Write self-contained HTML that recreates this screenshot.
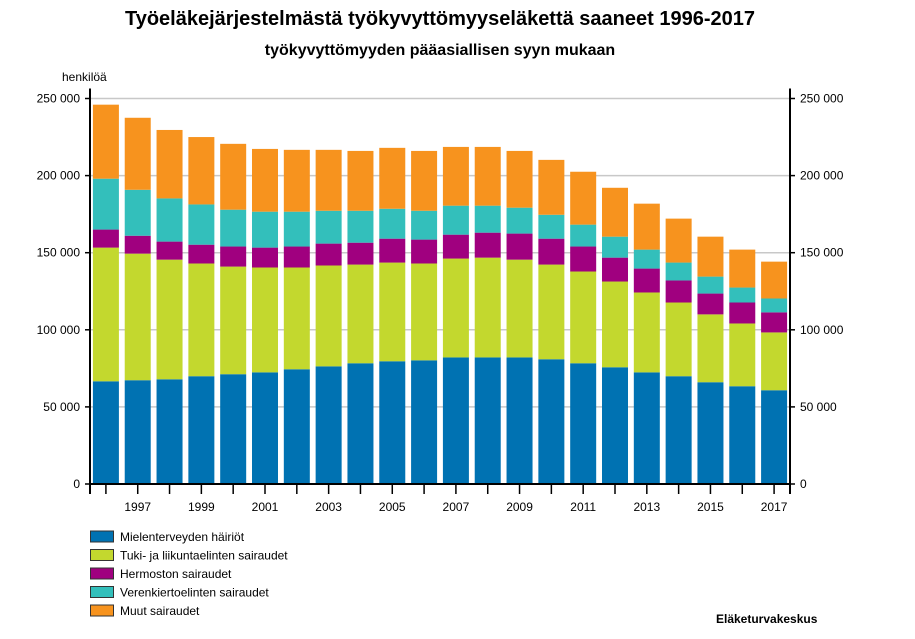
<!DOCTYPE html>
<html><head><meta charset="utf-8"><style>
body{margin:0;background:#fff;font-family:"Liberation Sans",Arial,sans-serif;}
</style></head><body>
<svg id="chart" width="915" height="634" xmlns="http://www.w3.org/2000/svg" font-family="Liberation Sans, Arial, sans-serif">
<text x="440" y="25" text-anchor="middle" font-size="20" font-weight="bold">Työeläkejärjestelmästä työkyvyttömyyseläkettä saaneet 1996-2017</text>
<text x="440" y="55" text-anchor="middle" font-size="16" font-weight="bold">työkyvyttömyyden pääasiallisen syyn mukaan</text>
<text x="62" y="81" font-size="12">henkilöä</text>
<text x="716" y="623" font-size="12" font-weight="bold">Eläketurvakeskus</text>
<g id="grid"></g><g id="bars"></g><g id="axes"></g><g id="legend"></g>
</svg>
<script>
const years=["1996","1997","1998","1999","2000","2001","2002","2003","2004","2005","2006","2007","2008","2009","2010","2011","2012","2013","2014","2015","2016","2017"];
const mental=[66.6,67.3,67.9,69.9,71.2,72.4,74.4,76.3,78.3,79.6,80.2,82.1,82.1,82.1,80.9,78.3,75.7,72.4,69.9,66,63.4,60.8];
const musculo=[86.7,82.1,77.6,73.1,69.8,68,66,65.4,64,64,62.8,64.1,64.7,63.4,61.4,59.5,55.6,51.8,47.8,44,40.7,37.5];
const nervous=[11.7,11.6,11.7,12.2,13,12.9,13.6,14.2,14.2,15.5,15.5,15.5,16.2,16.9,16.8,16.2,15.5,15.5,14.3,13.5,13.6,13];
const circ=[33,29.8,28,26.1,23.9,23.3,22.6,21.3,20.7,19.4,18.7,18.8,17.5,16.8,15.5,14.2,13.6,12.3,11.6,11,9.7,9];
const other=[48,46.7,44.4,43.7,42.7,40.7,40.1,39.5,38.8,39.5,38.8,38.1,38.1,36.8,35.6,34.3,31.7,29.8,28.5,25.9,24.6,23.9];
const seriesNames=["Mielenterveyden häiriöt","Tuki- ja liikuntaelinten sairaudet","Hermoston sairaudet","Verenkiertoelinten sairaudet","Muut sairaudet"];
const yTicks=[0,50,100,150,200,250];
const yTickLabels=["0","50 000","100 000","150 000","200 000","250 000"];
const series=[mental,musculo,nervous,circ,other];
const colors=["#0072b2","#c3d82e","#a0007f","#33bfbb","#f7931e"];
const slugs=["mental","musculoskeletal","nervous","circulatory","other"];
const NS="http://www.w3.org/2000/svg";
const X0=90,X1=790,Y0=484,Ytop=98.5;
const band=(X1-X0)/years.length;
function y(v){return Y0-(v/250)*(Y0-Ytop);}
function xc(i){return X0+band*(i+0.5);}
function mk(tag,attrs,parent){const e=document.createElementNS(NS,tag);for(const k in attrs)e.setAttribute(k,attrs[k]);parent.appendChild(e);return e;}
const grid=document.getElementById('grid'),bars=document.getElementById('bars'),axes=document.getElementById('axes'),legend=document.getElementById('legend');
yTicks.forEach((t,i)=>{
 if(t>0){const l=mk('line',{x1:X0,x2:X1,y1:y(t),y2:y(t),stroke:'#c8c8c8','stroke-width':1.5},grid);
 
 }
 const a=mk('line',{x1:X0-5,x2:X0,y1:y(t),y2:y(t),stroke:'#000','stroke-width':1.5},axes);
 
 
 const b=mk('line',{x1:X1,x2:X1+5,y1:y(t),y2:y(t),stroke:'#000','stroke-width':1.5},axes);
 
 
 const tl=mk('text',{x:X0-10,y:y(t)+4,'text-anchor':'end','font-size':12},axes);tl.textContent=yTickLabels[i];
 
 
 const tr=mk('text',{x:X1+10,y:y(t)+4,'font-size':12},axes);tr.textContent=yTickLabels[i];
 
 
});
years.forEach((yr,i)=>{
 let acc=0;
 series.forEach((s,k)=>{
  const top=acc+s[i];
  const r=mk('rect',{x:xc(i)-13,width:26,y:y(top),height:y(acc)-y(top),fill:colors[k]},bars);
  
  
  acc=top;
 });
 const tk=mk('line',{x1:xc(i),x2:xc(i),y1:Y0,y2:Y0+10,stroke:'#000','stroke-width':1.5},axes);
 
 
 if(i%2===1){const t=mk('text',{x:xc(i),y:511,'text-anchor':'middle','font-size':12},axes);t.textContent=yr;
 
 }
});
const ax=mk('line',{x1:X0-1,x2:X1+1,y1:Y0,y2:Y0,stroke:'#000','stroke-width':2},axes);


const la=mk('line',{x1:X0,x2:X0,y1:Ytop-10,y2:Y0+10,stroke:'#000','stroke-width':2},axes);


const ra=mk('line',{x1:X1,x2:X1,y1:Ytop-10,y2:Y0+10,stroke:'#000','stroke-width':2},axes);


seriesNames.forEach((n,k)=>{
 const yy=531+k*18.5;
 const sw=mk('rect',{x:90.5,y:yy,width:23,height:11,fill:colors[k],stroke:'#333','stroke-width':1},legend);
 
 
 const t=mk('text',{x:120,y:yy+10,'font-size':12},legend);t.textContent=n;
 
 
});
</script>
</body></html>
